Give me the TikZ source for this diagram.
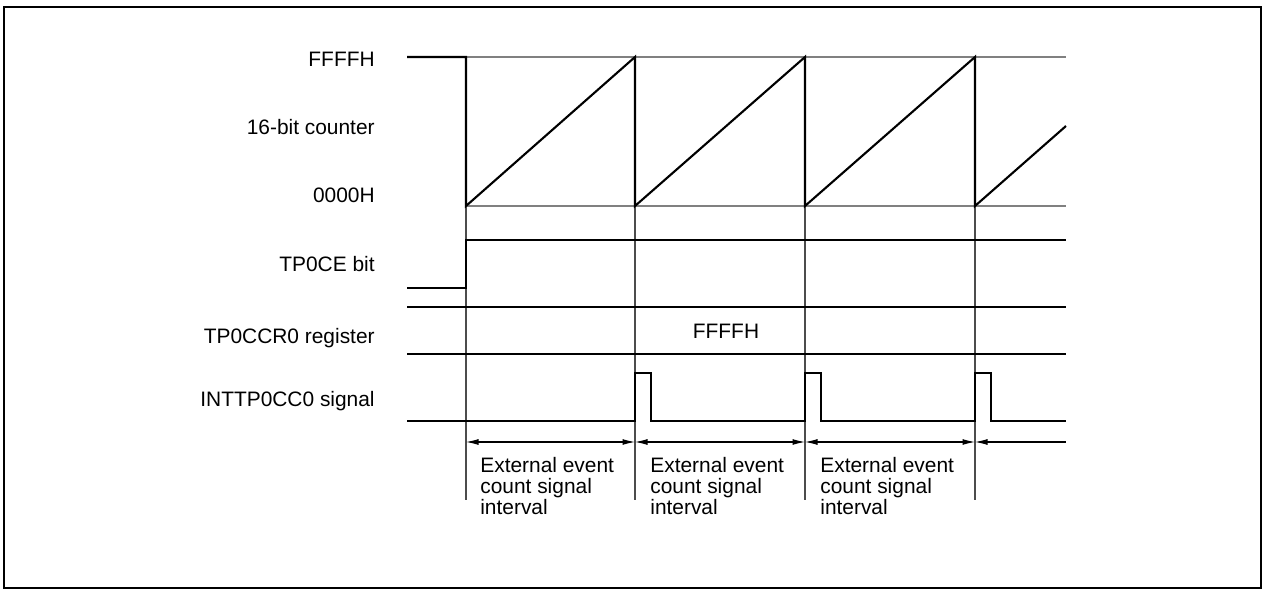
\documentclass[tikz,border=0pt]{standalone}
\usepackage{fontspec}
\setmainfont{Liberation Sans}
\usetikzlibrary{arrows.meta}

\begin{document}
\begin{tikzpicture}[x=0.02cm,y=-0.02cm,
  every node/.style={font=\fontsize{11.9pt}{12pt}\selectfont,inner sep=0pt},
  lbl/.style={anchor=base east},
  sig/.style={line width=1.2pt,line join=miter},
  lvl/.style={black!50,line width=0.6pt},
  tick/.style={black!70,line width=0.6pt},
  iv/.style={{Latex[length=2.5mm,width=1.2mm]}-{Latex[length=2.5mm,width=1.2mm]},line width=0.6pt},
  note/.style={anchor=north west,align=left}]
\useasboundingbox (0,0) rectangle (1264,591);
\draw[line width=1.3pt] (4,7) rectangle (1261,588);
% signal names
\node[lbl] (lffff) at (375,67) {FFFFH};
\node[lbl] (lcnt) at (375,135) {16-bit counter};
\node[lbl] (lzero) at (375,203) {0000H};
\node[lbl] (lce) at (375,272) {TP0CE bit};
\node[lbl] (lccr) at (375,343) {TP0CCR0 register};
\node[lbl] (lint) at (375,406) {INTTP0CC0 signal};
% levels and time marks
\draw[lvl] (466,57) -- (1066,57);
\draw[lvl] (466,206) -- (1066,206);
\foreach \x in {466,635,805,975} \draw[tick] (\x,206) -- (\x,500);
% 16-bit counter
\draw[sig] (407,57) -- (466,57) -- (466,206) -- (635,57) -- (635,206) -- (805,57) -- (805,206)
  -- (975,57) -- (975,206) -- (1066,126);
% TP0CE
\draw[sig] (407,288) -- (466,288) -- (466,240) -- (1066,240);
% TP0CCR0
\draw[sig] (407,307) -- (1066,307);
\draw[sig] (407,354) -- (1066,354);
\node[anchor=base] (vccr) at (726,338) {FFFFH};
% INTTP0CC0
\draw[sig] (407,421) -- (635,421) -- (635,373) -- (651,373) -- (651,421) -- (805,421) -- (805,373)
  -- (821,373) -- (821,421) -- (975,421) -- (975,373) -- (991,373) -- (991,421) -- (1066,421);
% intervals
\draw[iv] (466,442) -- (635,442);
\draw[iv] (635,442) -- (805,442);
\draw[iv] (805,442) -- (975,442);
\draw[{Latex[length=2.5mm,width=1.2mm]}-,line width=0.6pt] (975,442) -- (1066,442);
\foreach \n/\x in {n1/480,n2/650,n3/820}
  \node[note] (\n) at (\x,457) {External event\\count signal\\interval};
\end{tikzpicture}
\end{document}
